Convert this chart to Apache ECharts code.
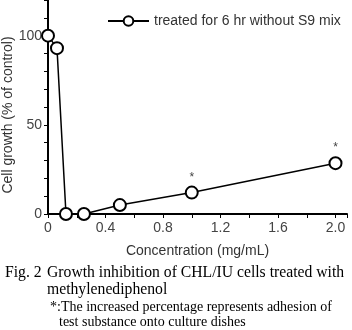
<!DOCTYPE html>
<html>
<head>
<meta charset="utf-8">
<script src="https://cdn.jsdelivr.net/npm/echarts@6/dist/echarts.min.js"></script>
<style>
  html, body { margin: 0; padding: 0; background: #fff; }
  #chart { width: 352px; height: 330px; }
</style>
</head>
<body>
<div id="chart"></div>
<script>
// Concentration (mg/mL) and cell growth (% of control)
const concentrations = [0, 0.0625, 0.125, 0.25, 0.5, 1.0, 2.0];
const growth = [100, 93, 0, 0, 5, 12, 28.5];
// points where growth reflects adhesion of the test substance
const adhesionFlag = [false, false, false, false, false, true, true];
const xTicks = [0, 0.4, 0.8, 1.2, 1.6, 2.0];
const yTicks = [0, 50, 100];
const seriesName = 'treated for 6 hr without S9 mix';

const sans = 'Liberation Sans, Arial, sans-serif';
const serif = 'Liberation Serif, Times New Roman, serif';

const points = concentrations.map((c, i) => {
  const item = { value: [c, growth[i]] };
  if (adhesionFlag[i]) {
    item.label = { show: true, formatter: '*', position: 'top', distance: 2,
      color: '#444', fontSize: 12, fontFamily: sans };
  }
  return item;
});

const chart = echarts.init(document.getElementById('chart'), null, { renderer: 'canvas' });
chart.setOption({
  animation: false,
  backgroundColor: '#fff',
  grid: { left: 48, right: 5, top: 0, bottom: 116, containLabel: false, outerBoundsMode: 'none' },
  legend: {
    left: 107, top: 14, padding: 0,
    itemWidth: 41, itemHeight: 12, itemGap: 6,
    textStyle: { fontFamily: sans, fontSize: 14, color: '#333' },
    data: [seriesName]
  },
  xAxis: {
    type: 'value', min: 0, max: 2.08, interval: 0.4,
    name: 'Concentration (mg/mL)', nameLocation: 'middle', nameGap: 30, nameMoveOverlap: false,
    nameTextStyle: { fontFamily: sans, fontSize: 14, color: '#333' },
    axisLine: { lineStyle: { color: '#000', width: 2 } },
    axisTick: { show: true, length: 4, lineStyle: { color: '#000', width: 1 } },
    minorTick: { show: true, splitNumber: 2, length: 4, lineStyle: { color: '#000', width: 1 } },
    axisLabel: { fontFamily: sans, fontSize: 14, color: '#444', margin: 7, showMaxLabel: false,
      formatter: v => xTicks.some(t => Math.abs(t - v) < 1e-9) ? v.toFixed(1).replace(/^0\.0$/, '0') : '' },
    splitLine: { show: false }
  },
  yAxis: {
    type: 'value', min: 0, max: 120, interval: 10,
    name: 'Cell growth (% of control)', nameLocation: 'middle', nameGap: 33, nameMoveOverlap: false,
    nameTextStyle: { fontFamily: sans, fontSize: 14, color: '#333', padding: [0, 16, 0, 0] },
    axisLine: { lineStyle: { color: '#000', width: 2 } },
    axisTick: { show: true, length: 4, lineStyle: { color: '#000', width: 1 } },
    axisLabel: { fontFamily: sans, fontSize: 14, color: '#444', margin: 6,
      formatter: v => yTicks.includes(v) ? String(v) : '' },
    splitLine: { show: false }
  },
  series: [{
    name: seriesName,
    type: 'line',
    data: points,
    clip: false,
    symbol: 'circle',
    symbolSize: 12,
    lineStyle: { color: '#000', width: 1.5 },
    itemStyle: { color: '#fff', borderColor: '#000', borderWidth: 2 },
    z: 3
  }],
  graphic: [
    { type: 'text', left: 5, top: 265,
      style: { text: 'Fig. 2', font: '15.7px ' + serif, fill: '#000' } },
    { type: 'text', left: 47, top: 265,
      style: { text: 'Growth inhibition of CHL/IU cells treated with', font: '15.7px ' + serif, fill: '#000' } },
    { type: 'text', left: 47, top: 282,
      style: { text: 'methylenediphenol', font: '15.7px ' + serif, fill: '#000' } },
    { type: 'text', left: 50, top: 300,
      style: { text: '*:The increased percentage represents adhesion of', font: '14px ' + serif, fill: '#000' } },
    { type: 'text', left: 59, top: 315,
      style: { text: 'test substance onto culture dishes', font: '14px ' + serif, fill: '#000' } }
  ]
});
</script>
</body>
</html>
